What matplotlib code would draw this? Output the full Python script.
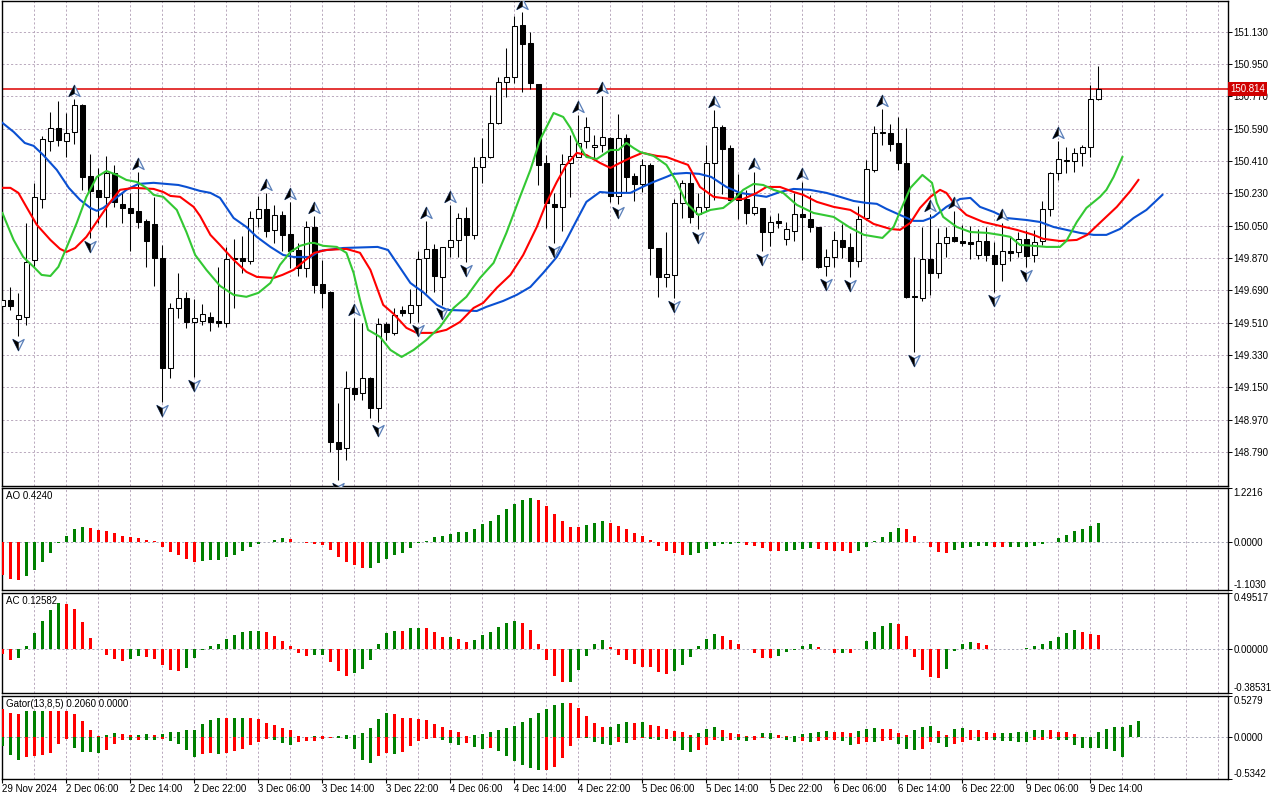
import numpy as np
import matplotlib
matplotlib.use("Agg")
import matplotlib.pyplot as plt
from matplotlib.path import Path

# ---------------- data (USDJPY style H1 chart) ----------------
opens = [149.603, 149.637, 149.531, 149.542, 149.860, 150.199, 150.523, 150.595, 150.523, 150.573,
         150.723, 150.328, 150.250, 150.211, 150.344, 150.172, 150.149, 150.133, 150.077, 150.060,
         149.871, 149.258, 149.592, 149.648, 149.514, 149.520, 149.542, 149.520, 149.509, 149.871,
         149.871, 149.854, 150.093, 150.144, 150.027, 150.110, 150.004, 149.915, 149.815, 150.043,
         149.726, 149.681, 148.846, 148.812, 149.146, 149.119, 149.202, 149.035, 149.503, 149.453,
         149.581, 149.564, 149.609, 149.871, 149.921, 149.765, 149.932, 149.971, 150.093, 149.999,
         150.378, 150.433, 150.623, 150.851, 150.879, 151.169, 151.068, 150.840, 150.400, 150.172,
         150.155, 150.400, 150.433, 150.523, 150.489, 150.500, 150.539, 150.216, 150.539, 150.328,
         150.283, 150.389, 149.926, 149.765, 149.776, 150.177, 150.289, 150.116, 150.155, 150.400,
         150.600, 150.483, 150.233, 150.199, 150.121, 150.149, 150.015, 150.077, 149.977, 150.021,
         150.116, 150.088, 150.043, 149.826, 149.876, 149.971, 149.932, 149.854, 150.093, 150.361,
         150.567, 150.567, 150.511, 150.400, 149.659, 149.648, 149.865, 149.787, 149.954, 149.988,
         149.965, 149.960, 149.887, 149.965, 149.887, 149.837, 149.910, 149.904, 149.977, 149.887,
         149.965, 150.144, 150.344, 150.411, 150.411, 150.456, 150.489, 150.756]
highs = [149.692, 149.709, 149.676, 150.066, 150.289, 150.550, 150.684, 150.745, 150.678, 150.756,
         150.729, 150.450, 150.372, 150.439, 150.389, 150.238, 150.233, 150.350, 150.088, 150.211,
         149.943, 149.620, 149.787, 149.681, 149.642, 149.614, 149.570, 149.821, 149.932, 149.977,
         149.993, 150.133, 150.216, 150.233, 150.166, 150.133, 150.183, 149.954, 150.077, 150.105,
         149.860, 149.687, 149.063, 149.241, 149.536, 149.509, 149.208, 149.536, 149.514, 149.592,
         149.603, 149.698, 149.910, 150.077, 149.949, 149.932, 150.166, 150.121, 150.155, 150.433,
         150.539, 150.779, 150.879, 151.041, 151.219, 151.241, 151.130, 150.840, 150.444, 150.233,
         150.450, 150.556, 150.667, 150.656, 150.556, 150.773, 150.545, 150.673, 150.561, 150.344,
         150.422, 150.400, 149.926, 150.015, 150.199, 150.305, 150.344, 150.233, 150.500, 150.695,
         150.612, 150.500, 150.339, 150.250, 150.350, 150.149, 150.105, 150.121, 150.071, 150.233,
         150.294, 150.222, 150.043, 149.921, 150.021, 150.060, 150.010, 150.160, 150.417, 150.606,
         150.701, 150.617, 150.656, 150.595, 149.876, 150.043, 150.116, 150.038, 150.043, 150.133,
         150.055, 150.049, 150.032, 150.043, 149.960, 150.066, 149.993, 150.015, 150.027, 150.027,
         150.188, 150.350, 150.523, 150.489, 150.483, 150.500, 150.834, 150.940]
lows = [149.570, 149.581, 149.436, 149.497, 149.821, 150.149, 150.467, 150.495, 150.433, 150.506,
        150.250, 149.982, 150.066, 150.043, 150.155, 150.066, 149.910, 150.038, 149.821, 149.715,
        149.069, 149.202, 149.536, 149.481, 149.208, 149.497, 149.464, 149.486, 149.486, 149.592,
        149.787, 149.837, 150.043, 149.988, 149.954, 149.910, 149.815, 149.770, 149.765, 149.676,
        149.592, 148.790, 148.634, 148.745, 149.080, 149.080, 148.979, 148.957, 149.414, 149.442,
        149.548, 149.509, 149.514, 149.676, 149.681, 149.609, 149.876, 149.876, 149.848, 149.977,
        150.289, 150.428, 150.617, 150.768, 150.846, 150.795, 150.812, 150.277, 150.038, 149.954,
        150.021, 150.211, 150.433, 150.483, 150.428, 150.461, 150.183, 150.172, 150.238, 150.188,
        150.238, 149.776, 149.653, 149.709, 149.648, 150.093, 150.066, 150.032, 150.133, 150.194,
        150.227, 150.183, 150.088, 150.060, 150.110, 149.910, 149.938, 150.038, 149.943, 149.965,
        149.860, 150.015, 149.815, 149.770, 149.821, 149.871, 149.765, 149.821, 150.082, 150.350,
        150.500, 150.467, 150.361, 149.648, 149.347, 149.631, 149.665, 149.759, 149.876, 149.960,
        149.938, 149.865, 149.865, 149.854, 149.681, 149.743, 149.854, 149.876, 149.821, 149.848,
        149.943, 150.105, 150.305, 150.344, 150.350, 150.383, 150.433, 150.751]
closes = [149.637, 149.603, 149.553, 149.848, 150.211, 150.534, 150.595, 150.528, 150.567, 150.723,
          150.322, 150.244, 150.211, 150.344, 150.183, 150.149, 150.121, 150.071, 149.965, 149.871,
          149.258, 149.592, 149.648, 149.514, 149.536, 149.559, 149.514, 149.509, 149.865, 149.865,
          149.854, 150.093, 150.144, 150.021, 150.110, 149.999, 149.910, 149.815, 150.043, 149.720,
          149.676, 148.846, 148.807, 149.146, 149.113, 149.202, 149.035, 149.503, 149.458, 149.553,
          149.564, 149.609, 149.865, 149.921, 149.770, 149.932, 149.971, 150.093, 149.999, 150.378,
          150.433, 150.623, 150.851, 150.879, 151.163, 151.063, 150.846, 150.389, 150.177, 150.155,
          150.394, 150.439, 150.511, 150.600, 150.500, 150.545, 150.216, 150.539, 150.322, 150.283,
          150.389, 149.926, 149.765, 149.781, 150.177, 150.289, 150.099, 150.155, 150.400, 150.600,
          150.478, 150.194, 150.194, 150.121, 150.155, 150.015, 150.071, 150.066, 150.032, 150.116,
          150.099, 150.043, 149.821, 149.876, 149.971, 149.932, 149.854, 150.088, 150.366, 150.567,
          150.573, 150.506, 150.400, 149.653, 149.653, 149.865, 149.787, 149.954, 149.988, 149.965,
          149.954, 149.949, 149.965, 149.887, 149.837, 149.910, 149.899, 149.977, 149.882, 149.960,
          150.144, 150.344, 150.422, 150.417, 150.456, 150.489, 150.756, 150.814]

# alligator lines (bar position, price) - jaw blue, teeth red, lips green
jaw_x = [0, 1.4, 2.8, 3.9, 5.1, 6.8, 8.3, 9.7, 11, 11.8, 12.6, 13.9, 15.5, 17, 18.9, 22, 23, 24.7, 26, 27.2,
         28.9, 30.5, 31.8, 33.5, 35.1, 36.4, 38.5, 39.7, 42.6, 46.9, 48.2, 49.3, 51, 52.7, 54.3, 55.6, 59.3,
         60.5, 62.6, 64.3, 66, 67.6, 69.3, 70.5, 71.8, 73, 74.7, 76, 77, 78.5, 80, 81.4, 83, 83.9, 85.5, 87.1,
         88.6, 90.5, 92.2, 93.9, 95.5, 97.2, 98.9, 100.9, 103, 104.7, 106.4, 108, 109.3, 110.5, 112.2, 113.9,
         115.1, 116.4, 118, 119.7, 121, 122.2, 123.9, 125.5, 128, 129.7, 131.4, 133, 134.7, 136.4, 138, 139.7,
         141.4, 143, 145]
jaw_y = [150.623, 150.573, 150.511, 150.495, 150.444, 150.361, 150.261, 150.194, 150.149, 150.133, 150.149,
         150.194, 150.250, 150.283, 150.289, 150.277, 150.266, 150.244, 150.233, 150.205, 150.093, 150.043,
         149.988, 149.932, 149.887, 149.876, 149.876, 149.910, 149.926, 149.932, 149.915, 149.843, 149.731,
         149.676, 149.609, 149.581, 149.575, 149.598, 149.631, 149.665, 149.709, 149.787, 149.876, 149.971,
         150.082, 150.183, 150.238, 150.233, 150.233, 150.233, 150.266, 150.294, 150.322, 150.339, 150.344,
         150.339, 150.322, 150.266, 150.233, 150.222, 150.211, 150.238, 150.255, 150.250, 150.233, 150.211,
         150.188, 150.177, 150.172, 150.144, 150.110, 150.077, 150.077, 150.099, 150.155, 150.199, 150.205,
         150.155, 150.127, 150.093, 150.082, 150.071, 150.043, 150.027, 150.010, 149.999, 149.999, 150.032,
         150.093, 150.138, 150.222]
teeth_x = [0, 1, 2, 3, 4.3, 6, 7.2, 8, 9.1, 10.5, 12.2, 13.5, 14.7, 16.4, 18.9, 20.1, 21, 22.2, 23.9, 24.7,
           26, 27.2, 28.9, 30.5, 31.8, 33.9, 35, 36.4, 37.6, 38.5, 39, 40.5, 43, 44.7, 46, 47.6, 48.9, 50.5,
           51.8, 53.9, 55.5, 57.2, 58.9, 60.1, 61.8, 63.5, 65.1, 66.8, 68, 69.3, 70.5, 71.8, 73, 74.7, 76,
           77.2, 78.5, 80, 81.8, 83, 84.7, 85.7, 87.2, 88.9, 91, 92.6, 94.3, 95.5, 97.2, 98.9, 100.1, 101.8,
           103.9, 106, 107.7, 108.9, 111, 112.2, 113.5, 114.7, 116, 117.2, 118, 118.9, 120.5, 122.6, 124.7,
           126.8, 128.9, 130.1, 132.2, 134.3, 135.6, 137.3, 139.3, 141, 142]
teeth_y = [150.261, 150.261, 150.233, 150.155, 150.055, 149.971, 149.921, 149.904, 149.926, 149.988, 150.099,
           150.183, 150.250, 150.261, 150.255, 150.238, 150.216, 150.211, 150.155, 150.105, 149.999, 149.943,
           149.860, 149.793, 149.765, 149.759, 149.776, 149.804, 149.848, 149.882, 149.899, 149.915, 149.921,
           149.899, 149.804, 149.609, 149.559, 149.481, 149.453, 149.453, 149.470, 149.514, 149.592, 149.620,
           149.704, 149.776, 149.887, 150.043, 150.177, 150.294, 150.389, 150.456, 150.444, 150.400, 150.372,
           150.400, 150.428, 150.456, 150.439, 150.433, 150.405, 150.389, 150.266, 150.211, 150.199, 150.199,
           150.233, 150.266, 150.266, 150.238, 150.222, 150.183, 150.155, 150.138, 150.093, 150.060, 150.032,
           150.027, 150.066, 150.149, 150.211, 150.250, 150.233, 150.177, 150.110, 150.071, 150.049, 150.027,
           149.999, 149.977, 149.965, 149.971, 149.999, 150.071, 150.155, 150.244, 150.305]
lips_x = [0, 1.4, 2.6, 3.9, 4.9, 6, 7, 8, 9.3, 10.5, 11.8, 13, 14.3, 15.5, 16.8, 18, 18.9, 20.1, 21.8, 23,
          24.1, 25.5, 27.2, 28.9, 30.5, 32, 33.5, 34.7, 36, 37.2, 38.5, 39, 40.1, 41.8, 43, 43.9, 44.7, 45.7,
          47.2, 48.5, 49.9, 51.4, 53, 54.7, 56.4, 58, 59.7, 61.4, 63, 64.7, 66, 67.2, 68.9, 70.1, 71, 71.8, 73,
          74.3, 76, 77, 78, 78.9, 79.7, 81.4, 83, 84.3, 85.5, 87, 88.5, 90.1, 91.4, 92.6, 93.9, 95.1, 96.4,
          97.6, 99.3, 101.4, 103.9, 106, 107.7, 110, 111.4, 112.4, 113.5, 115, 116.2, 116.8, 117.6, 119.3, 121,
          123.1, 124.7, 126, 127.2, 128.9, 130.5, 132.2, 133, 134.3, 135.5, 137.2, 138, 138.9, 140]
lips_y = [150.121, 149.971, 149.876, 149.821, 149.776, 149.770, 149.821, 149.926, 150.066, 150.211, 150.322,
          150.355, 150.333, 150.305, 150.294, 150.261, 150.222, 150.211, 150.138, 150.015, 149.887, 149.804,
          149.715, 149.665, 149.654, 149.676, 149.731, 149.832, 149.904, 149.938, 149.954, 149.954, 149.938,
          149.932, 149.899, 149.787, 149.637, 149.470, 149.431, 149.358, 149.319, 149.358, 149.414, 149.486,
          149.592, 149.654, 149.759, 149.843, 150.010, 150.211, 150.361, 150.528, 150.678, 150.656, 150.595,
          150.517, 150.433, 150.422, 150.472, 150.472, 150.511, 150.483, 150.461, 150.439, 150.389, 150.294,
          150.177, 150.110, 150.138, 150.149, 150.194, 150.250, 150.283, 150.277, 150.250, 150.233, 150.166,
          150.121, 150.099, 150.038, 149.999, 149.982, 150.043, 150.149, 150.261, 150.333, 150.289, 150.177,
          150.099, 150.043, 150.015, 150.010, 149.999, 149.988, 149.943, 149.938, 149.932, 149.932, 149.965,
          150.071, 150.149, 150.211, 150.250, 150.322, 150.433]

# bill williams fractals (bar index)
frac_up = [9, 17, 33, 36, 39, 44, 53, 56, 65, 72, 75, 89, 94, 100, 110, 116, 119, 125, 132]
frac_dn = [2, 11, 20, 24, 42, 47, 52, 55, 58, 69, 77, 84, 87, 95, 103, 106, 114, 124, 128]

ao = [-0.770, -0.851, -0.873, -0.777, -0.645, -0.469, -0.249, -0.029, 0.139, 0.286,
      0.337, 0.315, 0.271, 0.249, 0.191, 0.125, 0.095, 0.088, 0.029, 0.004,
      -0.117, -0.227, -0.315, -0.389, -0.469, -0.447, -0.411, -0.409, -0.359, -0.301,
      -0.213, -0.117, -0.051, -0.007, 0.044, 0.073, 0.051, 0.002, -0.029, -0.059,
      -0.081, -0.191, -0.345, -0.469, -0.543, -0.601, -0.594, -0.499, -0.389, -0.315,
      -0.257, -0.139, -0.037, 0.022, 0.095, 0.117, 0.183, 0.227, 0.229, 0.293,
      0.403, 0.469, 0.601, 0.733, 0.865, 0.953, 0.997, 0.950, 0.821, 0.623,
      0.469, 0.337, 0.330, 0.381, 0.425, 0.469, 0.425, 0.359, 0.293, 0.205,
      0.117, 0.029, -0.095, -0.205, -0.271, -0.315, -0.308, -0.249, -0.161, -0.095,
      -0.051, -0.048, -0.029, -0.073, -0.095, -0.154, -0.205, -0.209, -0.205, -0.202,
      -0.161, -0.139, -0.161, -0.183, -0.205, -0.209, -0.249, -0.205, -0.117, 0.004,
      0.095, 0.227, 0.315, 0.293, 0.139, -0.002, -0.125, -0.227, -0.271, -0.183,
      -0.139, -0.117, -0.095, -0.092, -0.117, -0.121, -0.117, -0.114, -0.112, -0.095,
      -0.051, -0.007, 0.073, 0.161, 0.249, 0.293, 0.359, 0.424]
ac = [-0.042, -0.092, -0.073, 0.028, 0.143, 0.252, 0.344, 0.406, 0.395, 0.353,
      0.244, 0.103, 0.006, -0.048, -0.084, -0.101, -0.084, -0.059, -0.065, -0.084,
      -0.140, -0.185, -0.193, -0.162, -0.076, -0.003, 0.025, 0.050, 0.092, 0.123,
      0.154, 0.160, 0.162, 0.149, 0.115, 0.076, 0.025, -0.031, -0.056, -0.055,
      -0.053, -0.115, -0.191, -0.233, -0.213, -0.171, -0.092, 0.050, 0.143, 0.162,
      0.161, 0.185, 0.186, 0.184, 0.151, 0.109, 0.111, 0.092, 0.067, 0.084,
      0.126, 0.151, 0.193, 0.235, 0.252, 0.227, 0.168, 0.050, -0.098, -0.233,
      -0.291, -0.290, -0.182, -0.056, 0.042, 0.084, 0.017, -0.048, -0.098, -0.132,
      -0.157, -0.158, -0.199, -0.216, -0.191, -0.140, -0.065, 0.025, 0.092, 0.134,
      0.118, 0.084, 0.050, 0.002, -0.031, -0.073, -0.081, -0.056, -0.023, -0.003,
      0.025, 0.050, 0.017, -0.001, -0.031, -0.029, -0.032, -0.002, 0.076, 0.151,
      0.202, 0.227, 0.218, 0.118, -0.065, -0.182, -0.241, -0.249, -0.174, -0.014,
      0.050, 0.067, 0.059, 0.034, 0.002, 0.001, 0.0015, 0.002, 0.008, 0.025,
      0.042, 0.076, 0.109, 0.143, 0.168, 0.151, 0.134, 0.126]
gator_up = [0.360, 0.310, 0.298, 0.339, 0.340, 0.341, 0.339, 0.337, 0.336, 0.298,
            0.202, 0.091, 0.016, 0.029, 0.050, 0.048, 0.029, 0.030, 0.041, 0.029,
            0.041, 0.062, 0.063, 0.091, 0.092, 0.174, 0.227, 0.248, 0.247, 0.249,
            0.250, 0.249, 0.236, 0.186, 0.161, 0.124, 0.091, 0.016, 0.006, 0.021,
            0.016, 0.009, 0.012, 0.025, 0.029, 0.050, 0.124, 0.236, 0.310, 0.301,
            0.252, 0.250, 0.239, 0.215, 0.165, 0.128, 0.091, 0.066, 0.016, 0.029,
            0.041, 0.062, 0.091, 0.115, 0.140, 0.190, 0.252, 0.314, 0.363, 0.413,
            0.438, 0.436, 0.376, 0.277, 0.177, 0.128, 0.129, 0.165, 0.190, 0.177,
            0.191, 0.153, 0.140, 0.103, 0.078, 0.066, 0.029, 0.053, 0.103, 0.128,
            0.091, 0.053, 0.041, 0.012, 0.011, 0.053, 0.055, 0.029, 0.012, 0.014,
            0.041, 0.053, 0.066, 0.078, 0.066, 0.064, 0.053, 0.078, 0.103, 0.115,
            0.103, 0.102, 0.053, 0.029, 0.091, 0.128, 0.140, 0.078, 0.029, 0.103,
            0.115, 0.091, 0.089, 0.066, 0.053, 0.055, 0.056, 0.066, 0.067, 0.091,
            0.092, 0.091, 0.066, 0.064, 0.041, 0.009, 0.004, 0.066, 0.103, 0.128,
            0.129, 0.157, 0.206]
gator_dn = [0.115, 0.232, 0.294, 0.248, 0.239, 0.232, 0.198, 0.083, 0.021, 0.136,
            0.186, 0.187, 0.198, 0.165, 0.087, 0.033, 0.035, 0.032, 0.033, 0.035,
            0.021, 0.046, 0.083, 0.165, 0.252, 0.219, 0.198, 0.219, 0.207, 0.177,
            0.145, 0.095, 0.062, 0.021, 0.033, 0.074, 0.095, 0.058, 0.050, 0.046,
            0.021, 0.009, 0.012, 0.021, 0.145, 0.294, 0.335, 0.239, 0.198, 0.215,
            0.190, 0.115, 0.053, 0.021, 0.012, 0.033, 0.078, 0.103, 0.078, 0.128,
            0.153, 0.140, 0.177, 0.239, 0.301, 0.351, 0.388, 0.422, 0.413, 0.376,
            0.264, 0.115, 0.004, 0.012, 0.066, 0.091, 0.103, 0.066, 0.078, 0.041,
            0.004, 0.016, 0.029, 0.016, 0.053, 0.165, 0.190, 0.165, 0.103, 0.041,
            0.042, 0.029, 0.030, 0.053, 0.041, 0.009, 0.021, 0.009, 0.041, 0.066,
            0.053, 0.066, 0.053, 0.041, 0.029, 0.053, 0.103, 0.091, 0.066, 0.067,
            0.053, 0.029, 0.091, 0.153, 0.165, 0.153, 0.066, 0.078, 0.128, 0.091,
            0.066, 0.041, 0.042, 0.029, 0.041, 0.042, 0.043, 0.066, 0.067, 0.041,
            0.029, 0.027, 0.030, 0.041, 0.103, 0.140, 0.141, 0.143, 0.144, 0.177,
            0.248]

price_ticks = [151.130, 150.950, 150.770, 150.590, 150.410, 150.230, 150.050,
               149.870, 149.690, 149.510, 149.330, 149.150, 148.970, 148.790]
last_price = 150.814
time_ticks = [0, 8, 16, 24, 32, 40, 48, 56, 64, 72, 80, 88, 96, 104, 112, 120, 128, 136]
time_labels = ['29 Nov 2024', '2 Dec 06:00', '2 Dec 14:00', '2 Dec 22:00', '3 Dec 06:00',
               '3 Dec 14:00', '3 Dec 22:00', '4 Dec 06:00', '4 Dec 14:00', '4 Dec 22:00',
               '5 Dec 06:00', '5 Dec 14:00', '5 Dec 22:00', '6 Dec 06:00', '6 Dec 14:00',
               '6 Dec 22:00', '9 Dec 06:00', '9 Dec 14:00']

# ---------------- style ----------------
plt.rcParams['font.family'] = ['Liberation Sans', 'DejaVu Sans']
plt.rcParams['font.size'] = 7

GRID_C = '#b9a9bd'
GREEN = '#008000'
RED = '#ff0000'
W, H = 1280, 800

fig = plt.figure(figsize=(12.8, 8), dpi=100)
fig.patch.set_facecolor('white')


def panel(top, bottom):
    # axes from pixel rows of the original chart
    return fig.add_axes([2 / W, 1 - bottom / H, 1226 / W, (bottom - top) / H])


ax = panel(1, 486)
ax_ao = panel(488, 590)
ax_ac = panel(593, 693)
ax_gt = panel(696, 779)

for a in (ax, ax_ao, ax_ac, ax_gt):
    a.set_xlim(-0.05, 153.2)
    for s in a.spines.values():
        s.set_linewidth(1.0)
        s.set_color('black')
    for k in range(4, 153, 4):
        a.axvline(k, color=GRID_C, lw=0.7, dashes=(2.2, 2.2), zorder=0)
    a.tick_params(axis='x', bottom=False, labelbottom=False)
    a.yaxis.tick_right()
    a.tick_params(axis='y', right=True, left=False, length=3, width=0.7, pad=1, labelsize=7)

# ---------------- main price panel ----------------
x = np.arange(len(opens))
o = np.array(opens)
h = np.array(highs)
l = np.array(lows)
c = np.array(closes)
bull = c >= o

ax.set_ylim(148.600, 151.302)
ax.set_yticks(price_ticks)
ax.set_yticklabels(['%.3f' % v for v in price_ticks])
for v in price_ticks:
    ax.axhline(v, color=GRID_C, lw=0.7, dashes=(2.2, 2.2), zorder=0)

ax.axhline(last_price, color='#dd0000', lw=1.1, zorder=2)

ax.vlines(x, l, h, color='black', lw=0.75, zorder=3)
body_lo = np.minimum(o, c)
body_h = np.maximum(np.abs(c - o), 0.004)
ax.bar(x[bull], body_h[bull], bottom=body_lo[bull], width=0.62,
       facecolor='white', edgecolor='black', lw=0.75, zorder=4)
ax.bar(x[~bull], body_h[~bull], bottom=body_lo[~bull], width=0.62,
       facecolor='black', edgecolor='black', lw=0.75, zorder=4)

ax.plot(jaw_x, jaw_y, color='#0a50d2', lw=1.5, zorder=5, solid_joinstyle='round')
ax.plot(teeth_x, teeth_y, color='#ff0000', lw=1.5, zorder=5, solid_joinstyle='round')
ax.plot(lips_x, lips_y, color='#33c833', lw=1.5, zorder=5, solid_joinstyle='round')

# fractal arrows: outline + black left half
up_full = Path([(0, 1), (0.9, -0.8), (0, -0.3), (-0.9, -0.8), (0, 1)],
               [Path.MOVETO, Path.LINETO, Path.LINETO, Path.LINETO, Path.CLOSEPOLY])
up_half = Path([(0, 1), (0, -0.3), (-0.9, -0.8), (0, 1)],
               [Path.MOVETO, Path.LINETO, Path.LINETO, Path.CLOSEPOLY])
dn_full = Path([(vx, -vy) for vx, vy in up_full.vertices], up_full.codes)
dn_half = Path([(vx, -vy) for vx, vy in up_half.vertices], up_half.codes)

fu_y = [highs[i] + 0.045 for i in frac_up]
fd_y = [lows[i] - 0.045 for i in frac_dn]
ax.plot(frac_up, fu_y, ls='none', marker=up_full, ms=9, mfc='#f4f8ff', mec='#5a7fb8', mew=0.9, zorder=6)
ax.plot(frac_up, fu_y, ls='none', marker=up_half, ms=9, mfc='black', mec='black', mew=0.3, zorder=7)
ax.plot(frac_dn, fd_y, ls='none', marker=dn_full, ms=9, mfc='#f4f8ff', mec='#5a7fb8', mew=0.9, zorder=6)
ax.plot(frac_dn, fd_y, ls='none', marker=dn_half, ms=9, mfc='black', mec='black', mew=0.3, zorder=7)

ax.text(1.0015, last_price, '%.3f' % last_price, transform=ax.get_yaxis_transform(),
        ha='left', va='center', color='white', fontsize=7, zorder=10, clip_on=False,
        bbox=dict(boxstyle='square,pad=0.2', fc='#d00000', ec='none'))


# ---------------- oscillator panels ----------------
def bar_colors(vals, first):
    cols = [first]
    for i in range(1, len(vals)):
        cols.append(GREEN if vals[i] > vals[i - 1] else RED)
    return cols


def setup_sub(a, lo, hi, fmt, title):
    a.set_ylim(lo, hi)
    a.set_yticks([lo, 0, hi])
    a.set_yticklabels([fmt % lo, fmt % 0, fmt % hi])
    labs = a.get_yticklabels()
    labs[0].set_va('bottom')
    labs[2].set_va('top')
    a.axhline(0, color='#a8a8b8', lw=0.7, dashes=(2.2, 2.2), zorder=1)
    a.annotate(title, xy=(0, 1), xycoords='axes fraction', xytext=(4, -3),
               textcoords='offset pixels', ha='left', va='top', fontsize=7)


setup_sub(ax_ao, -1.1030, 1.2216, '%.4f', 'AO %.4f' % ao[-1])
ax_ao.bar(np.arange(len(ao)), ao, width=0.4, color=bar_colors(ao, RED), zorder=3)

setup_sub(ax_ac, -0.38531, 0.49517, '%.5f', 'AC 0.12582')
ax_ac.bar(np.arange(len(ac)), ac, width=0.4, color=bar_colors(ac, RED), zorder=3)

setup_sub(ax_gt, -0.5342, 0.5279, '%.4f', 'Gator(13,8,5) %.4f 0.0000' % gator_up[-1])
ax_gt.bar(np.arange(len(gator_up)), gator_up, width=0.4, color=bar_colors(gator_up, RED), zorder=3)
ax_gt.bar(np.arange(len(gator_dn)), -np.array(gator_dn), width=0.4,
          color=bar_colors(gator_dn, GREEN), zorder=3)

# time axis under the last panel
ax_gt.set_xticks(time_ticks)
ax_gt.set_xticklabels(time_labels, ha='left')
ax_gt.tick_params(axis='x', bottom=True, labelbottom=True, length=3, width=0.8, pad=0.5, labelsize=7)

fig.savefig('out.png', dpi=100, facecolor='white')
